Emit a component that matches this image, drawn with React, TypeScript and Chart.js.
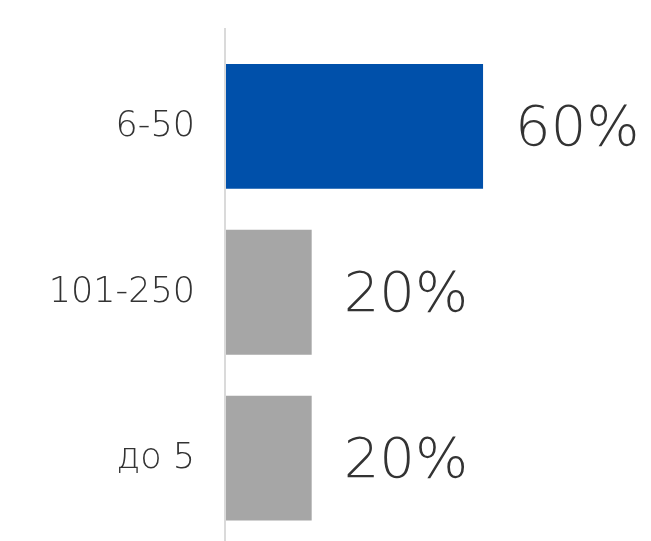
import React, { useEffect, useRef } from "react";
import { Chart, registerables } from "chart.js";

Chart.register(...registerables);

const categories = ["6-50", "101-250", "до 5"];
const values = [60, 20, 20];
const barColors = ["#0050AA", "#A6A6A6", "#A6A6A6"];
const FONT = "'DejaVu Sans'";

const axisLinePlugin = {
  id: "axisLine",
  afterDraw(chart: any) {
    const { ctx, chartArea } = chart;
    ctx.save();
    ctx.strokeStyle = "#DADADA";
    ctx.lineWidth = 2;
    ctx.beginPath();
    ctx.moveTo(chartArea.left - 1, 28);
    ctx.lineTo(chartArea.left - 1, chart.height);
    ctx.stroke();
    ctx.restore();
  },
};

const labelPlugin = {
  id: "labels",
  afterDatasetsDraw(chart: any) {
    const { ctx, chartArea } = chart;
    const meta = chart.getDatasetMeta(0);
    ctx.save();
    ctx.fillStyle = "#333333";
    ctx.textBaseline = "alphabetic";
    meta.data.forEach((bar: any, i: number) => {
      ctx.font = `200 56px ${FONT}`;
      ctx.textAlign = "left";
      ctx.fillText(values[i] + "%", bar.x + 32, bar.y + 19);
      ctx.font = `200 35px ${FONT}`;
      ctx.textAlign = "right";
      ctx.fillText(categories[i], chartArea.left - 31, bar.y + 10);
    });
    ctx.restore();
  },
};

export default function App() {
  const ref = useRef<HTMLCanvasElement>(null);
  useEffect(() => {
    document.body.style.margin = "0";
    const chart = new Chart(ref.current!, {
      type: "bar",
      data: {
        labels: categories,
        datasets: [
          {
            data: values,
            backgroundColor: barColors,
            barPercentage: 125 / 166,
            categoryPercentage: 1,
          },
        ],
      },
      options: {
        indexAxis: "y",
        animation: false,
        responsive: false,
        layout: { padding: { top: 43.5, bottom: 0, right: 18, left: 226 } },
        plugins: { legend: { display: false }, tooltip: { enabled: false } },
        scales: {
          x: { display: false, min: 0, max: 95 },
          y: { display: false },
        },
      },
      plugins: [axisLinePlugin, labelPlugin],
    });
    return () => chart.destroy();
  }, []);
  return (
    <div style={{ width: 651, height: 541 }}>
      <canvas ref={ref} width={651} height={541} style={{ display: "block" }} />
    </div>
  );
}
